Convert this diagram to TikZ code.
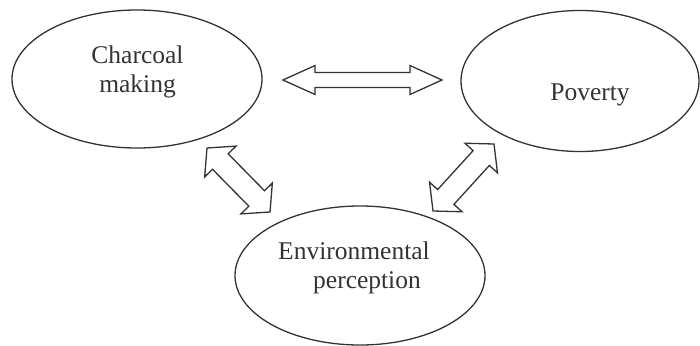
\documentclass[tikz,border=0pt]{standalone}
\usepackage{fontspec}
\setmainfont{Liberation Serif}
\usetikzlibrary{shapes.geometric,calc}
\definecolor{ink}{HTML}{333333}
\newcommand\dblarrow[5]{%
  % #1,#2 end coordinates, #3 shaft half width, #4 head length, #5 head half width
  \draw[blockarrow]
    (#1)
    -- ($($(#1)!#4!(#2)$)!#5!90:(#2)$)
    -- ($($(#1)!#4!(#2)$)!#3!90:(#2)$)
    -- ($($(#2)!#4!(#1)$)!#3!-90:(#1)$)
    -- ($($(#2)!#4!(#1)$)!#5!-90:(#1)$)
    -- (#2)
    -- ($($(#2)!#4!(#1)$)!#5!90:(#1)$)
    -- ($($(#2)!#4!(#1)$)!#3!90:(#1)$)
    -- ($($(#1)!#4!(#2)$)!#3!-90:(#2)$)
    -- ($($(#1)!#4!(#2)$)!#5!-90:(#2)$)
    -- cycle;}
\tikzset{
  oval/.style={draw=ink, line width=1.3pt, ellipse, inner sep=0pt},
  lbl/.style={text=ink, font=\fontsize{25.5}{29}\selectfont, align=center, inner sep=0pt},
  blockarrow/.style={draw=ink, line width=1.3pt, line join=miter, fill=white}
}
\begin{document}
\begin{tikzpicture}[x=1pt,y=-1pt]
\useasboundingbox[fill=white] (0,0) rectangle (700,345);
% ovals
\node[oval, minimum width=250pt, minimum height=138pt] (charcoal) at (137,79) {};
\node[oval, minimum width=238pt, minimum height=141pt] (poverty) at (580,81) {};
\node[oval, minimum width=250pt, minimum height=139pt] (env) at (360,275.5) {};
% labels
\node[lbl] (charcoalT) at (137.5,72) {Charcoal\\making};
\node[lbl, anchor=base] (povertyT) at (590,100) {Poverty};
\node[lbl] (envT) at (354,268) {Environmental\\\hspace*{26pt}perception};
% arrow end points
\coordinate (h1) at (283,80);
\coordinate (h2) at (442,80);
\coordinate (l1) at (207,148);
\coordinate (l2) at (270,212);
\coordinate (r1) at (433,211);
\coordinate (r2) at (494,144);
% block arrows
\dblarrow{h1}{h2}{7.5pt}{32pt}{14.5pt}
\dblarrow{l1}{l2}{11pt}{19pt}{22pt}
\dblarrow{r1}{r2}{11pt}{19pt}{22pt}
\end{tikzpicture}
\end{document}
